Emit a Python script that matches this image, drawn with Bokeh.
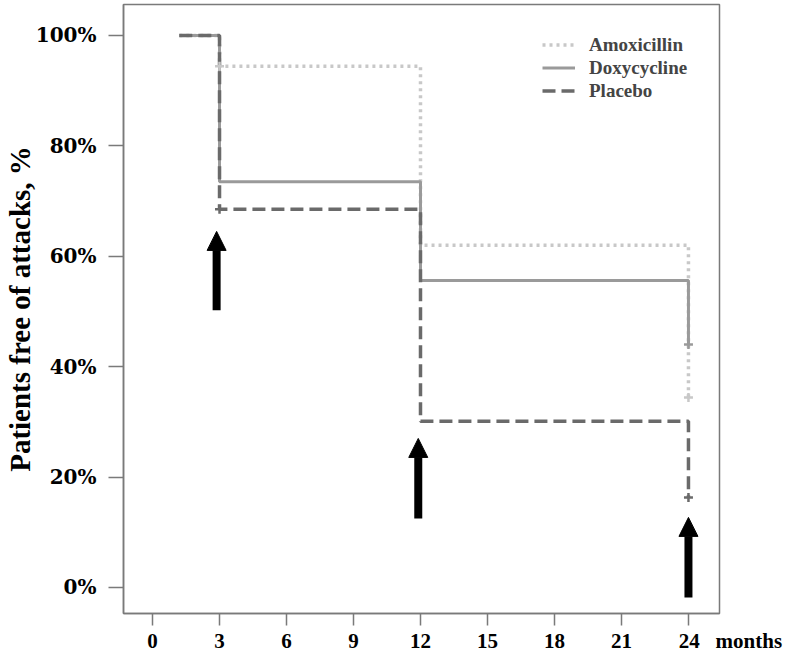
from bokeh.plotting import figure
from bokeh.models import Legend, LegendItem, Arrow, NormalHead, FixedTicker
from bokeh.embed import file_html
from bokeh.resources import INLINE

# Kaplan-Meier style survival data (months, % free of attacks)
times = [1.2, 3, 12, 24]
amoxicillin = [100, 94.4, 62.0, 34.4]
doxycycline = [100, 73.5, 55.6, 44.0]
placebo = [100, 68.5, 30.1, 16.3]

# censor marks
amox_cens_x = [3, 24]
amox_cens_y = [94.4, 34.4]
doxy_cens_x = [24]
doxy_cens_y = [44.0]
plac_cens_x = [3, 24]
plac_cens_y = [68.5, 16.3]

# arrows (x, y_start, y_end)
arrow_x = [2.87, 11.9, 24.0]
arrow_y0 = [50.2, 12.5, -1.8]
arrow_y1 = [64.5, 27.0, 12.7]

x_ticks = [0, 3, 6, 9, 12, 15, 18, 21, 24]
x_unit = "months"
y_ticks = [0, 20, 40, 60, 80, 100]
y_tick_labels = ["0%", "20%", "40%", "60%", "80%", "100%"]

SERIF = "Liberation Serif"
WIDE_SERIF = "DejaVu Serif"
NB = "\u00a0"

p = figure(frame_width=596, frame_height=609,
           x_range=(-1.30, 25.39), y_range=(-4.71, 105.6),
           output_backend="svg", toolbar_location=None,
           min_border_left=121, min_border_right=67,
           min_border_top=4, min_border_bottom=30)

p.xgrid.visible = False
p.ygrid.visible = False
p.outline_line_color = "#7a7a7a"
p.outline_line_width = 1.5
p.background_fill_color = "white"
p.border_fill_color = "white"

c_amox = "#c8c8c8"
c_doxy = "#9a9a9a"
c_plac = "#6a6a6a"

r_amox = p.step(times, amoxicillin, mode="after", line_color=c_amox,
                line_width=3.5, line_dash="3 4")
r_doxy = p.step(times, doxycycline, mode="after", line_color=c_doxy,
                line_width=3)
r_plac = p.step(times, placebo, mode="after", line_color=c_plac,
                line_width=3.5, line_dash="13 6")

p.scatter(amox_cens_x, amox_cens_y, marker="cross", size=9, line_width=2.5, line_color=c_amox)
p.scatter(doxy_cens_x, doxy_cens_y, marker="cross", size=9, line_width=2.5, line_color=c_doxy)
p.scatter(plac_cens_x, plac_cens_y, marker="cross", size=9, line_width=2.5, line_color=c_plac)

for xa, ya0, ya1 in zip(arrow_x, arrow_y0, arrow_y1):
    p.add_layout(Arrow(end=NormalHead(size=19, fill_color="black", line_color="black", line_width=1),
                       x_start=xa, y_start=ya0, x_end=xa, y_end=ya1,
                       line_color="black", line_width=8))

# axes
p.xaxis.ticker = FixedTicker(ticks=x_ticks)
x_over = {t: str(t) for t in x_ticks}
x_over[x_ticks[-1]] = NB * 16 + str(x_ticks[-1]) + NB * 3 + x_unit
p.xaxis.major_label_overrides = x_over
p.yaxis.ticker = FixedTicker(ticks=y_ticks)
p.yaxis.major_label_overrides = {t: l for t, l in zip(y_ticks, y_tick_labels)}
for ax in (p.xaxis[0], p.yaxis[0]):
    ax.axis_line_color = "#7a7a7a"
    ax.axis_line_width = 1.5
    ax.major_tick_line_color = "#7a7a7a"
    ax.major_tick_line_width = 1.5
    ax.major_tick_in = 0
    ax.minor_tick_line_color = None
    ax.major_label_text_font_style = "bold"
    ax.major_label_text_color = "black"
p.xaxis.major_label_text_font = SERIF
p.xaxis.major_label_text_font_size = "21px"
p.xaxis.major_tick_out = 12
p.xaxis.major_label_standoff = 3
p.yaxis.major_label_text_font = WIDE_SERIF
p.yaxis.major_label_text_font_size = "20px"
p.yaxis.major_tick_out = 15
p.yaxis.major_label_standoff = 12
p.yaxis.axis_label = "Patients free of attacks, %"
p.yaxis.axis_label_text_font = SERIF
p.yaxis.axis_label_text_font_style = "bold"
p.yaxis.axis_label_text_font_size = "29px"
p.yaxis.axis_label_text_color = "black"
p.yaxis.axis_label_standoff = -3

legend = Legend(items=[LegendItem(label="Amoxicillin", renderers=[r_amox]),
                       LegendItem(label="Doxycycline", renderers=[r_doxy]),
                       LegendItem(label="Placebo", renderers=[r_plac])],
                location=(419, 511), orientation="vertical",
                border_line_color=None, background_fill_alpha=0,
                label_text_font=SERIF, label_text_font_style="bold",
                label_text_font_size="19px", label_standoff=14,
                glyph_width=33, glyph_height=23, label_height=23,
                spacing=0, padding=0, margin=0)
p.add_layout(legend)

open("out.html", "w").write(file_html(p, INLINE))
